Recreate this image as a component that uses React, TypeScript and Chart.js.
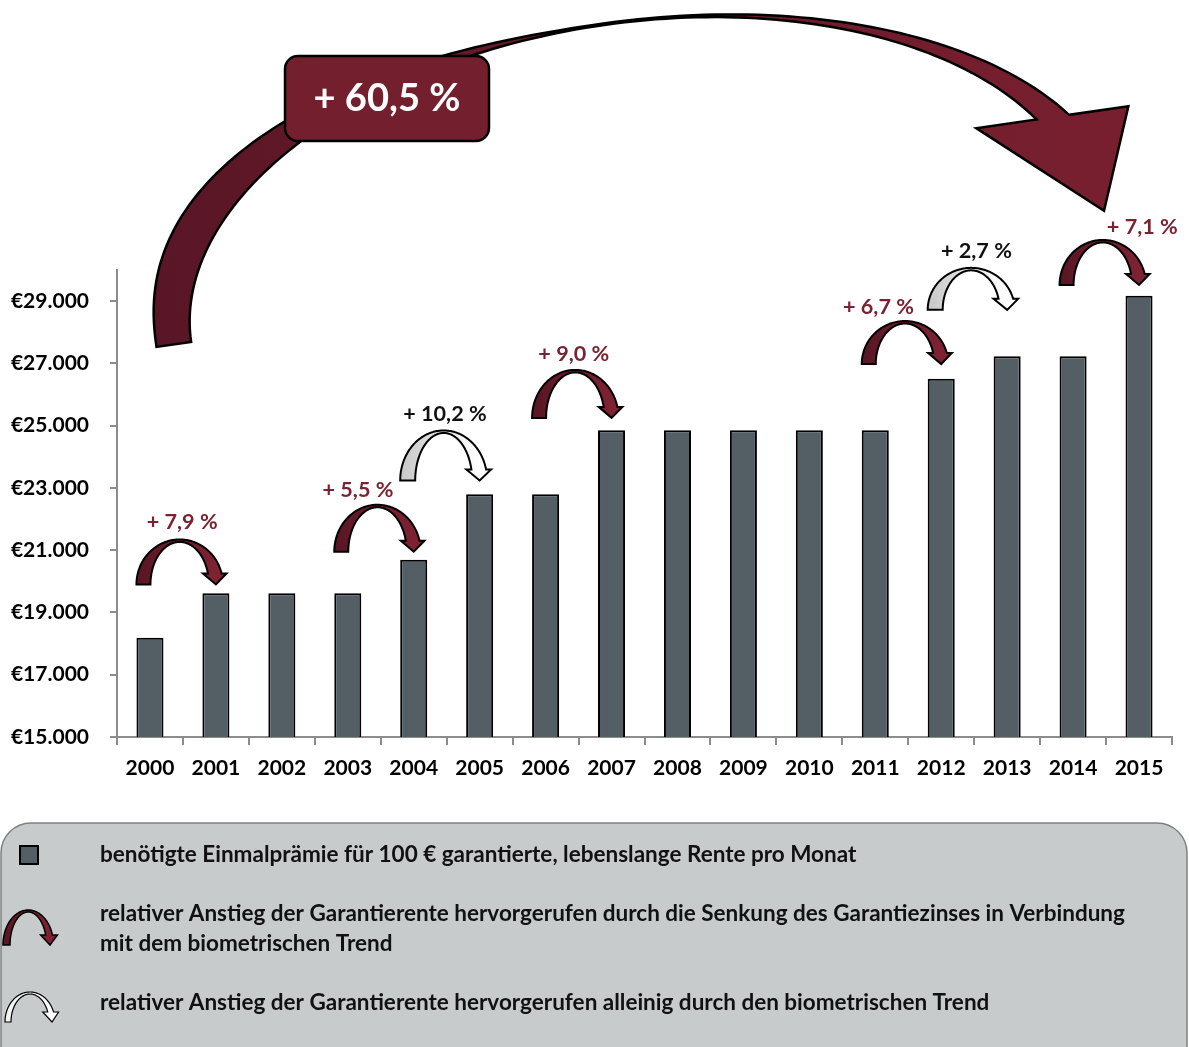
import React, { useEffect, useRef } from 'react';
import { Chart, registerables } from 'chart.js';

Chart.register(...registerables);

// ---------- data ----------
const years = ['2000', '2001', '2002', '2003', '2004', '2005', '2006', '2007', '2008', '2009', '2010', '2011', '2012', '2013', '2014', '2015'];
const premiums = [18190, 19620, 19620, 19620, 20690, 22800, 22800, 24850, 24850, 24850, 24850, 24850, 26510, 27230, 27230, 29170];
const yTickValues = [15000, 17000, 19000, 21000, 23000, 25000, 27000, 29000];
const yMin = 15000;
const yMax = 30000;

// step annotations (from bar -> to bar)
const stepFrom = [0, 3, 4, 6, 11, 12, 14];
const stepTo = [1, 4, 5, 7, 12, 13, 15];
const stepLabels = ['+ 7,9 %', '+ 5,5 %', '+ 10,2 %', '+ 9,0 %', '+ 6,7 %', '+ 2,7 %', '+ 7,1 %'];
const stepKinds = ['both', 'both', 'bio', 'both', 'both', 'bio', 'both'];
const stepArrowLevel = [19900, 20950, 23240, 25250, 26980, 28720, 29520];
const totalLabel = '+ 60,5 %';
const totalArrowFootLevel = 27530;
const totalArrowTipLevel = 31900;

const legendTexts = [
  'benötigte Einmalprämie für 100 € garantierte, lebenslange Rente pro Monat',
  'relativer Anstieg der Garantierente hervorgerufen durch die Senkung des Garantiezinses in Verbindung',
  'mit dem biometrischen Trend',
  'relativer Anstieg der Garantierente hervorgerufen alleinig durch den biometrischen Trend',
];

// ---------- layout / style (not data) ----------
const stepArrowHeight = [45, 47, 50, 48, 43, 42, 45];
const stepLabelDx = [6, -16, 5, 2, -23, 9, 43];
const stepLabelDy = [-17, -15, -16, -16, -14, -17, -13];
const FONT = 'Lato, "Open Sans", sans-serif';
const BAR_COLOR = '#545e65';
const RED = '#7a2232';
const DARK_RED_A = '#581624';
const DARK_RED_B = '#7e2233';

type ArrowOpts = {
  fx: number; fy: number; tx: number; ty: number;
  H: number; HI: number; t: number; hl: number; wl: number; wr: number;
  nLO?: number; nLI?: number; c0: string; c1: string; lw: number;
};

function curvedArrow(ctx: CanvasRenderingContext2D, o: ArrowOpts) {
  const dx = o.tx - o.fx;
  const dy = o.ty - o.fy;
  const W = Math.hypot(dx, dy);
  const ang = Math.atan2(dy, dx);
  const rxO = (W + o.t / 2) / 2;
  const cx = rxO;
  const rxI = rxO - o.t;
  const nLO = o.nLO ?? 2;
  const nLI = o.nLI ?? 2;
  const pt = (rx: number, H: number, nL: number, th: number) => {
    const c = Math.cos(th);
    const s = Math.sin(th);
    const n = th < Math.PI / 2 ? nL : 2;
    return [cx - rx * Math.sign(c) * Math.pow(Math.abs(c), 2 / n), -H * Math.pow(Math.abs(s), 2 / n)];
  };
  const thEnd = (H: number) => Math.PI - Math.asin(Math.min(1, o.hl / H));
  ctx.save();
  ctx.translate(o.fx, o.fy);
  ctx.rotate(ang);
  ctx.beginPath();
  const N = 120;
  const eO = thEnd(o.H);
  for (let i = 0; i <= N; i++) {
    const p = pt(rxO, o.H, nLO, (eO * i) / N);
    if (i === 0) ctx.moveTo(p[0], p[1]);
    else ctx.lineTo(p[0], p[1]);
  }
  const po = pt(rxO, o.H, nLO, eO);
  const eI = thEnd(o.HI);
  const pi = pt(rxI, o.HI, nLI, eI);
  ctx.lineTo(po[0] + o.wr, -o.hl);
  ctx.lineTo(W, 0);
  ctx.lineTo(pi[0] - o.wl, -o.hl);
  for (let i = N; i >= 0; i--) {
    const p = pt(rxI, o.HI, nLI, (eI * i) / N);
    ctx.lineTo(p[0], p[1]);
  }
  ctx.closePath();
  const g = ctx.createLinearGradient(0, 0, W, 0);
  g.addColorStop(0, o.c0);
  g.addColorStop(1, o.c1);
  ctx.fillStyle = g;
  ctx.fill();
  ctx.lineWidth = o.lw;
  ctx.lineJoin = 'miter';
  ctx.strokeStyle = '#000';
  ctx.stroke();
  ctx.restore();
}

function fitSize(ctx: CanvasRenderingContext2D, text: string, target: number) {
  ctx.font = `bold 20px ${FONT}`;
  const w = ctx.measureText(text).width;
  return (20 * target) / w;
}

const annotationPlugin = {
  id: 'annotations',
  afterDraw(chart: any) {
    const ctx: CanvasRenderingContext2D = chart.ctx;
    const meta = chart.getDatasetMeta(0);
    const ys = chart.scales.y;

    // step arrows
    const labelSize = fitSize(ctx, '+ 7,9 %', 71);
    stepFrom.forEach((fi, k) => {
      const from = meta.data[fi];
      const to = meta.data[stepTo[k]];
      const level = ys.getPixelForValue(stepArrowLevel[k]);
      const fx = from.x - from.width / 2;
      const tx = to.x;
      const H = stepArrowHeight[k];
      const bio = stepKinds[k] === 'bio';
      curvedArrow(ctx, {
        fx, fy: level, tx, ty: level, H, HI: H - 2.5, t: bio ? 15 : 14, hl: 11, wl: 5, wr: 5,
        c0: bio ? '#c8c8c8' : DARK_RED_A, c1: bio ? '#ffffff' : DARK_RED_B, lw: 2,
      });
      ctx.save();
      ctx.font = `bold ${labelSize}px ${FONT}`;
      ctx.fillStyle = bio ? '#111111' : RED;
      ctx.textAlign = 'center';
      ctx.textBaseline = 'middle';
      ctx.fillText(stepLabels[k], (fx + tx) / 2 + stepLabelDx[k], level - H + stepLabelDy[k]);
      ctx.restore();
    });

    // total arrow
    const b0 = meta.data[0];
    const bN = meta.data[meta.data.length - 1];
    const fx = b0.x + 6.5;
    const fy = ys.getPixelForValue(totalArrowFootLevel);
    const tx = bN.x - 35;
    const ty = ys.getPixelForValue(totalArrowTipLevel);
    const W = Math.hypot(tx - fx, ty - fy);
    const H = 0.268 * W;
    curvedArrow(ctx, {
      fx, fy, tx, ty, H, HI: H - 1.5, t: 35, hl: 100, wl: 61, wr: 60, nLO: 2.3, nLI: 2,
      c0: '#591626', c1: '#771f2f', lw: 2.5,
    });
    // total label box
    ctx.save();
    ctx.beginPath();
    (ctx as any).roundRect(285, 56, 204, 85, 13);
    ctx.fillStyle = '#731f2e';
    ctx.fill();
    ctx.lineWidth = 2.5;
    ctx.strokeStyle = '#000';
    ctx.stroke();
    const boxSize = fitSize(ctx, totalLabel, 147);
    ctx.font = `bold ${boxSize}px ${FONT}`;
    ctx.fillStyle = '#ffffff';
    ctx.textAlign = 'center';
    ctx.textBaseline = 'middle';
    ctx.fillText(totalLabel, 387, 99);
    ctx.restore();

    // legend box
    ctx.save();
    ctx.beginPath();
    (ctx as any).roundRect(1, 823, 1186, 260, [30, 30, 0, 0]);
    ctx.fillStyle = '#c8cbcc';
    ctx.fill();
    ctx.lineWidth = 1.5;
    ctx.strokeStyle = '#7c8184';
    ctx.stroke();
    // square marker
    ctx.fillStyle = BAR_COLOR;
    ctx.fillRect(20, 846, 18, 18);
    ctx.lineWidth = 2;
    ctx.strokeStyle = '#000';
    ctx.strokeRect(20, 846, 18, 18);
    ctx.restore();
    curvedArrow(ctx, {
      fx: 3, fy: 945, tx: 50, ty: 945, H: 35, HI: 33, t: 7, hl: 10, wl: 5, wr: 5,
      c0: DARK_RED_A, c1: DARK_RED_B, lw: 1.5,
    });
    curvedArrow(ctx, {
      fx: 5, fy: 1022, tx: 52, ty: 1022, H: 30, HI: 28, t: 6, hl: 10, wl: 5, wr: 5,
      c0: '#f2f2f2', c1: '#ffffff', lw: 1.2,
    });
    const legSize = fitSize(ctx, legendTexts[1], 1025);
    ctx.save();
    ctx.font = `bold ${legSize}px ${FONT}`;
    ctx.fillStyle = '#111111';
    ctx.textAlign = 'left';
    ctx.textBaseline = 'middle';
    const legY = [855, 914, 944, 1003];
    legendTexts.forEach((t, i) => ctx.fillText(t, 100, legY[i]));
    ctx.restore();
  },
};

export default function App() {
  const ref = useRef<HTMLCanvasElement | null>(null);
  useEffect(() => {
    if (!ref.current) return;
    const tickFont = { family: FONT, size: 21, weight: 'bold' as const };
    const chart = new Chart(ref.current, {
      type: 'bar',
      data: {
        labels: years,
        datasets: [
          {
            label: 'Einmalprämie',
            data: premiums,
            backgroundColor: BAR_COLOR,
            borderColor: '#000000',
            borderWidth: 2,
            barPercentage: 0.41,
            categoryPercentage: 1,
          },
        ],
      },
      options: {
        animation: false,
        responsive: false,
        layout: { padding: { top: 270, left: 0, right: 17, bottom: 260 } },
        plugins: { legend: { display: false }, tooltip: { enabled: false } },
        scales: {
          x: {
            grid: { offset: true, drawOnChartArea: false, drawTicks: true, tickLength: 8, color: '#8c8c8c', lineWidth: 2 },
            border: { color: '#8c8c8c', width: 2 },
            ticks: { font: tickFont, color: '#000', padding: 11, maxRotation: 0, autoSkip: false },
            afterFit: (s: any) => { s.height = 50; },
          },
          y: {
            min: yMin,
            max: yMax,
            grid: { drawOnChartArea: false, drawTicks: true, tickLength: 7, color: '#8c8c8c', lineWidth: 2 },
            border: { color: '#8c8c8c', width: 2 },
            ticks: {
              font: tickFont,
              color: '#000',
              padding: 21,
              callback: (v: any) => '€' + (Number(v) / 1000).toFixed(3),
            },
            afterBuildTicks: (s: any) => { s.ticks = yTickValues.map((v) => ({ value: v })); },
            afterFit: (s: any) => { s.width = 117; },
          },
        },
      },
      plugins: [annotationPlugin],
    });
    return () => chart.destroy();
  }, []);
  return (
    <div style={{ position: 'absolute', left: 0, top: 0, width: 1189, height: 1047, background: '#fff' }}>
      <canvas ref={ref} width={1189} height={1047} style={{ display: 'block', width: 1189, height: 1047 }} />
    </div>
  );
}
